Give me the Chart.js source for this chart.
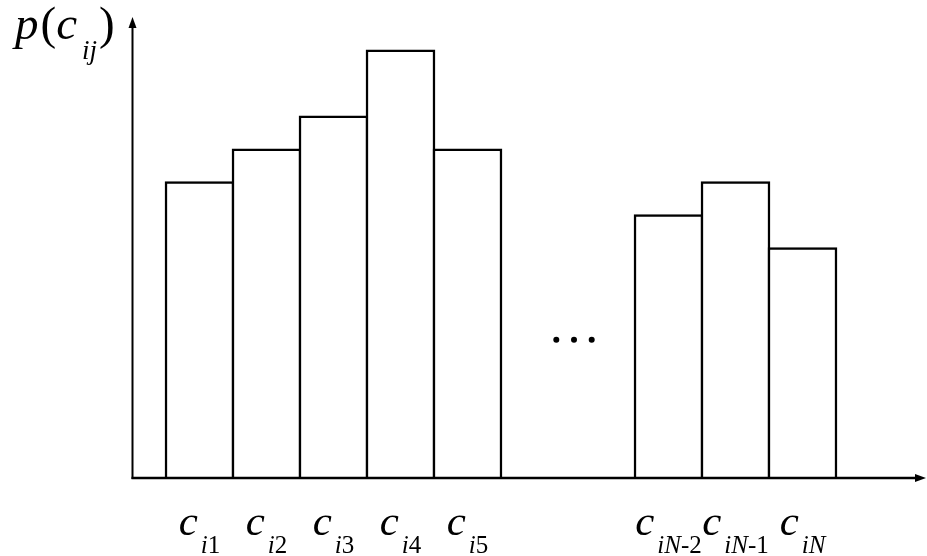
<!DOCTYPE html>
<html>
<head>
<meta charset="utf-8">
<script src="https://cdn.jsdelivr.net/npm/chart.js@4.4.0/dist/chart.umd.min.js"></script>
<style>
html,body{margin:0;padding:0;background:#fff;}
#wrap{width:927px;height:556px;}
#probe{position:absolute;left:-1000px;top:0;font-family:"Liberation Serif";}
</style>
</head>
<body>
<div id="wrap"><canvas id="c" width="927" height="556"></canvas></div>
<span id="probe"><i>cpij</i>c1N-2()</span>
<script>
// Category slots (two empty slots stand for the "..." gap)
const categories = ['i1', 'i2', 'i3', 'i4', 'i5', '', '', 'iN-2', 'iN-1', 'iN'];
// Bar heights (arbitrary units)
const values = [9, 10, 11, 13, 10, null, null, 8, 9, 7];
// Y axis range
const yMin = 0;
const yMax = 14;
// Height of the ellipsis dots, in data units
const dotsLevel = 4.2;

const SERIF = '"Liberation Serif", "Times New Roman", Times, serif';

function drawSubscripted(ctx, cx, baseY, main, sub, mainSize, subSize, subDrop) {
  ctx.font = 'italic ' + mainSize + 'px ' + SERIF;
  const mw = ctx.measureText(main).width;
  const segs = [];
  for (const ch of sub) {
    const it = /[A-Za-z]/.test(ch);
    if (segs.length && segs[segs.length - 1].it === it) segs[segs.length - 1].t += ch;
    else segs.push({ t: ch, it: it });
  }
  let sw = 0;
  segs.forEach(s => {
    ctx.font = (s.it ? 'italic ' : '') + subSize + 'px ' + SERIF;
    s.w = ctx.measureText(s.t).width;
    sw += s.w;
  });
  const gap = 3;
  let x = cx - (mw + gap + sw) / 2;
  ctx.textBaseline = 'alphabetic';
  ctx.textAlign = 'left';
  ctx.fillStyle = '#000';
  ctx.font = 'italic ' + mainSize + 'px ' + SERIF;
  ctx.fillText(main, x, baseY);
  x += mw + gap;
  segs.forEach(s => {
    ctx.font = (s.it ? 'italic ' : '') + subSize + 'px ' + SERIF;
    ctx.fillText(s.t, x, baseY + subDrop);
    x += s.w;
  });
}

const decor = {
  id: 'decor',
  afterDatasetsDraw(chart) {
    const ctx = chart.ctx;
    const xs = chart.scales.x, ys = chart.scales.y;
    const slot = xs.getPixelForValue(1) - xs.getPixelForValue(0);
    const axisX = xs.getPixelForValue(0) - slot;
    const baseY = ys.getPixelForValue(0);
    const topY = ys.getPixelForValue(yMax);
    const rightX = chart.width - 1;
    ctx.save();
    ctx.strokeStyle = '#000';
    ctx.fillStyle = '#000';
    ctx.lineWidth = 2;
    // y axis
    ctx.beginPath();
    ctx.moveTo(axisX, baseY + 1);
    ctx.lineTo(axisX, topY + 8);
    ctx.stroke();
    ctx.beginPath();
    ctx.moveTo(axisX, topY);
    ctx.lineTo(axisX - 4, topY + 11);
    ctx.lineTo(axisX + 4, topY + 11);
    ctx.closePath();
    ctx.fill();
    // x axis
    ctx.lineWidth = 2.5;
    ctx.beginPath();
    ctx.moveTo(axisX - 1, baseY);
    ctx.lineTo(rightX - 8, baseY);
    ctx.stroke();
    ctx.beginPath();
    ctx.moveTo(rightX, baseY);
    ctx.lineTo(rightX - 11, baseY - 4);
    ctx.lineTo(rightX - 11, baseY + 4);
    ctx.closePath();
    ctx.fill();
    // ellipsis dots
    const mid = (xs.getPixelForValue(5) + xs.getPixelForValue(6)) / 2 + 6;
    const dy = ys.getPixelForValue(dotsLevel);
    [-17.7, 0, 17.7].forEach(o => {
      ctx.beginPath();
      ctx.arc(mid + o, dy, 3, 0, Math.PI * 2);
      ctx.fill();
    });
    // category labels
    categories.forEach((c, i) => {
      if (!c) return;
      const cx = xs.getPixelForValue(i);
      drawSubscripted(ctx, cx, baseY + 57, 'c', c, 43, 25, 18);
    });
    // y axis label p(c_ij)
    let x = 15;
    const by = 39;
    ctx.textAlign = 'left';
    ctx.textBaseline = 'alphabetic';
    ctx.font = 'italic 47px ' + SERIF;
    ctx.fillText('p', x, by); x += ctx.measureText('p').width + 2;
    ctx.font = '47px ' + SERIF;
    ctx.fillText('(', x, by); x += ctx.measureText('(').width;
    ctx.font = 'italic 47px ' + SERIF;
    ctx.fillText('c', x, by); x += ctx.measureText('c').width + 5;
    ctx.font = 'italic 27px ' + SERIF;
    ctx.fillText('ij', x, by + 20); x += ctx.measureText('ij').width + 2;
    ctx.font = '47px ' + SERIF;
    ctx.fillText(')', x, by);
    ctx.restore();
  }
};

function build() {
  new Chart(document.getElementById('c'), {
    type: 'bar',
    data: {
      labels: categories,
      datasets: [{
        data: values,
        backgroundColor: '#ffffff',
        borderColor: '#000000',
        borderWidth: 2.5,
        borderSkipped: 'bottom',
        barThickness: 69,
        grouped: false,
        clip: false
      }]
    },
    options: {
      responsive: false,
      animation: false,
      devicePixelRatio: 1,
      layout: { padding: { left: 166, right: 91, top: 17, bottom: 78 } },
      plugins: { legend: { display: false }, tooltip: { enabled: false } },
      scales: {
        x: { display: false, offset: true, grid: { display: false } },
        y: { display: false, min: yMin, max: yMax, grid: { display: false } }
      }
    },
    plugins: [decor]
  });
}

const loads = [
  'italic 42px "Liberation Serif"',
  '42px "Liberation Serif"'
].map(f => document.fonts.load(f).catch(() => null));
Promise.all(loads).then(build, build);
</script>
</body>
</html>
